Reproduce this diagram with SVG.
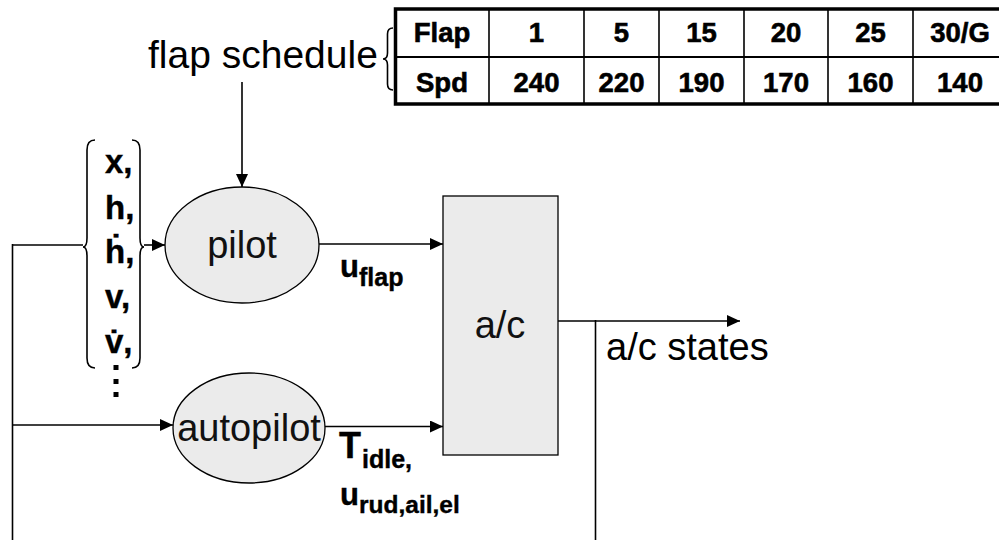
<svg xmlns="http://www.w3.org/2000/svg" width="999" height="540" viewBox="0 0 999 540">
<style>
.ln{stroke:#000;stroke-width:1.6;fill:none}
.nd{fill:#ebebeb;stroke:#000;stroke-width:1.3}
.t{font-family:"Liberation Sans",Arial,sans-serif;fill:#000}
.nt{font-family:"Liberation Sans",Arial,sans-serif;fill:#111;font-size:38px;text-anchor:middle}
.tb{font-family:"Liberation Sans",Arial,sans-serif;font-weight:bold;font-size:27.5px;text-anchor:middle;fill:#000;stroke:#000;stroke-width:0.6}
.b{font-family:"Liberation Sans",Arial,sans-serif;font-weight:bold;fill:#000;stroke:#000;stroke-width:0.4}
.br{stroke:#000;stroke-width:1.6;fill:none}
</style>
<defs>
<marker id="ah" markerUnits="userSpaceOnUse" markerWidth="13" markerHeight="12" refX="13" refY="6" orient="auto">
<path d="M0,0 L13,6 L0,12 Z" fill="#000"/>
</marker>
</defs>
<g id="table">
<rect x="395.5" y="9" width="612" height="95" fill="#fff" stroke="#000" stroke-width="3.5"/>
<line x1="395" y1="57" x2="1008" y2="57" stroke="#000" stroke-width="2"/>
<g stroke="#000" stroke-width="1.6">
<line x1="489" y1="9" x2="489" y2="104"/>
<line x1="584" y1="9" x2="584" y2="104"/>
<line x1="659" y1="9" x2="659" y2="104"/>
<line x1="744" y1="9" x2="744" y2="104"/>
<line x1="828" y1="9" x2="828" y2="104"/>
<line x1="913" y1="9" x2="913" y2="104"/>
</g>
<text class="tb" x="442" y="42">Flap</text>
<text class="tb" x="536.5" y="42">1</text>
<text class="tb" x="621.5" y="42">5</text>
<text class="tb" x="701.5" y="42">15</text>
<text class="tb" x="786" y="42">20</text>
<text class="tb" x="870.5" y="42">25</text>
<text class="tb" x="960" y="42">30/G</text>
<text class="tb" x="442" y="92">Spd</text>
<text class="tb" x="536.5" y="92">240</text>
<text class="tb" x="621.5" y="92">220</text>
<text class="tb" x="701.5" y="92">190</text>
<text class="tb" x="786" y="92">170</text>
<text class="tb" x="870.5" y="92">160</text>
<text class="tb" x="960" y="92">140</text>
</g>
<g id="flap-schedule">
<text class="t" x="148" y="68" font-size="39">flap schedule</text>
<path class="br" d="M393,28 Q387.5,28 387.5,34 L387.5,53 Q387.5,59 383,59 Q387.5,59 387.5,65 L387.5,84 Q387.5,90 393,90"/>
</g>
<g id="states-list">
<path class="br" d="M95,140 Q87,140 87,150 L87,238 Q87,247 83,247 Q87,247 87,256 L87,358 Q87,368 95,368"/>
<path class="br" d="M132,140 Q140,140 140,150 L140,238 Q140,247 144,247 Q140,247 140,256 L140,358 Q140,368 132,368"/>
<g class="b" font-size="33">
<text x="105" y="173">x,</text>
<text x="105" y="219">h,</text>
<text x="105" y="263">ḣ,</text>
<text x="105" y="308">v,</text>
<text x="105" y="353">v̇,</text>
</g>
<g fill="#000">
<rect x="113.5" y="365" width="5" height="5"/>
<rect x="113.5" y="379" width="5" height="5"/>
<rect x="113.5" y="392" width="5" height="5"/>
</g>
</g>
<g id="connectors">
<line class="ln" x1="242" y1="82" x2="242" y2="187" marker-end="url(#ah)"/>
<line class="ln" x1="12.5" y1="245" x2="83" y2="245"/>
<line class="ln" x1="144" y1="245" x2="165" y2="245" marker-end="url(#ah)"/>
<line class="ln" x1="12.5" y1="244" x2="12.5" y2="540"/>
<line class="ln" x1="12" y1="425" x2="173" y2="425" marker-end="url(#ah)"/>
<line class="ln" x1="319" y1="244" x2="443" y2="244" marker-end="url(#ah)"/>
<line class="ln" x1="325" y1="426.5" x2="443" y2="426.5" marker-end="url(#ah)"/>
<line class="ln" x1="558" y1="321" x2="740" y2="321" marker-end="url(#ah)"/>
<line class="ln" x1="595.5" y1="320" x2="595.5" y2="540"/>
</g>
<g id="pilot">
<ellipse class="nd" cx="242" cy="245" rx="77" ry="58"/>
<text class="nt" x="242" y="258">pilot</text>
</g>
<g id="autopilot">
<ellipse class="nd" cx="249" cy="428" rx="76" ry="55"/>
<text class="nt" x="249" y="441">autopilot</text>
</g>
<g id="ac">
<rect class="nd" x="443" y="196" width="115" height="259" stroke-width="1.6"/>
<text class="nt" x="500" y="338">a/c</text>
</g>
<g id="labels">
<text class="t" x="606" y="360" font-size="38">a/c states</text>
<text class="b" x="340" y="277" font-size="31">u<tspan x="359" dy="9" font-size="25">flap</tspan></text>
<text class="b" x="339" y="458" font-size="36">T<tspan x="362" dy="10" font-size="25">idle,</tspan></text>
<text class="b" x="340" y="505" font-size="31">u<tspan x="359" dy="8" font-size="24.5">rud,ail,el</tspan></text>
</g>
</svg>
